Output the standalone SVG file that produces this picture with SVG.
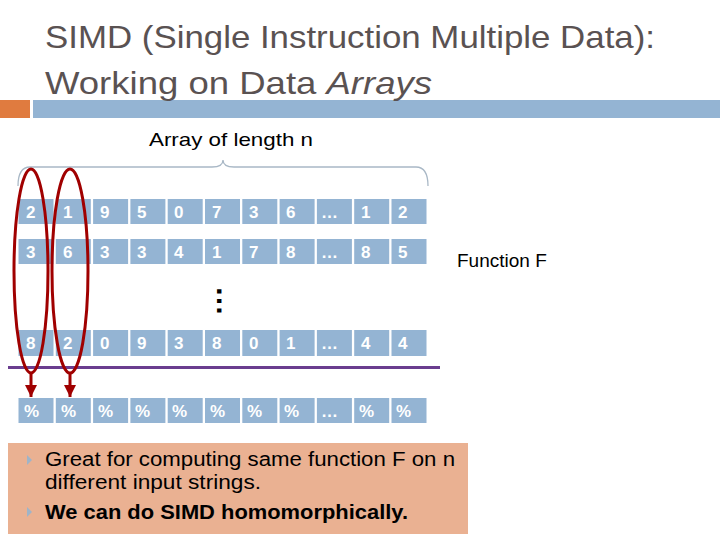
<svg xmlns="http://www.w3.org/2000/svg" width="720" height="540" viewBox="0 0 720 540">
<style>
.title{font-family:"Liberation Sans",Arial,sans-serif;font-size:32px;fill:#5a5252}
.lbl{font-family:"Liberation Sans",Arial,sans-serif;font-size:19px;fill:#000}
.cell rect{fill:#94b4d3}
.cell text{font-family:"Liberation Sans",Arial,sans-serif;font-size:17px;font-weight:bold;fill:#ffffff}
.bul{font-family:"Liberation Sans",Arial,sans-serif;font-size:20px;fill:#000}
.loop{fill:none;stroke:#a00000;stroke-width:3}
</style>
<defs>
<marker id="ah" viewBox="0 0 10 10" refX="10" refY="5" markerWidth="4.5" markerHeight="4" orient="auto" markerUnits="strokeWidth">
<path d="M0,0 L10,5 L0,10 z" fill="#a00000"/>
</marker>
</defs>
<rect x="0" y="100" width="30" height="18" fill="#e07b3f"/>
<rect x="33" y="100" width="687" height="18" fill="#94b4d3"/>
<text class="title" x="45" y="48" textLength="610" lengthAdjust="spacingAndGlyphs">SIMD (Single Instruction Multiple Data):</text>
<text class="title" x="45" y="94" textLength="387" lengthAdjust="spacingAndGlyphs">Working on Data <tspan font-style="italic">Arrays</tspan></text>
<text class="lbl" x="149" y="146" textLength="164" lengthAdjust="spacingAndGlyphs">Array of length n</text>
<path d="M18,186 Q18,167 30,167 L212,167 Q223,167 223,160 Q223,167 234,167 L416,167 Q428,167 428,186" fill="none" stroke="#a9b8c6" stroke-width="1.3"/>
<g id="row1" class="cell">
<rect x="18.5" y="199" width="35" height="25"/><text x="26" y="218">2</text>
<rect x="55.8" y="199" width="35" height="25"/><text x="63" y="218">1</text>
<rect x="93.1" y="199" width="35" height="25"/><text x="100" y="218">9</text>
<rect x="130.4" y="199" width="35" height="25"/><text x="137" y="218">5</text>
<rect x="167.7" y="199" width="35" height="25"/><text x="174" y="218">0</text>
<rect x="205" y="199" width="35" height="25"/><text x="212" y="218">7</text>
<rect x="242.3" y="199" width="35" height="25"/><text x="249" y="218">3</text>
<rect x="279.6" y="199" width="35" height="25"/><text x="286" y="218">6</text>
<rect x="316.9" y="199" width="35" height="25"/><text x="321" y="218">…</text>
<rect x="354.2" y="199" width="35" height="25"/><text x="361" y="218">1</text>
<rect x="391.5" y="199" width="35" height="25"/><text x="398" y="218">2</text>
</g>
<g id="row2" class="cell">
<rect x="18.5" y="239" width="35" height="25"/><text x="26" y="258">3</text>
<rect x="55.8" y="239" width="35" height="25"/><text x="63" y="258">6</text>
<rect x="93.1" y="239" width="35" height="25"/><text x="100" y="258">3</text>
<rect x="130.4" y="239" width="35" height="25"/><text x="137" y="258">3</text>
<rect x="167.7" y="239" width="35" height="25"/><text x="174" y="258">4</text>
<rect x="205" y="239" width="35" height="25"/><text x="212" y="258">1</text>
<rect x="242.3" y="239" width="35" height="25"/><text x="249" y="258">7</text>
<rect x="279.6" y="239" width="35" height="25"/><text x="286" y="258">8</text>
<rect x="316.9" y="239" width="35" height="25"/><text x="321" y="258">…</text>
<rect x="354.2" y="239" width="35" height="25"/><text x="361" y="258">8</text>
<rect x="391.5" y="239" width="35" height="25"/><text x="398" y="258">5</text>
</g>
<text x="219" y="301" transform="rotate(90 219 301)" text-anchor="middle" dy="2.5" font-family="Liberation Sans, Arial, sans-serif" font-size="30" font-weight="bold" fill="#000">…</text>
<g id="row3" class="cell">
<rect x="18.5" y="330" width="35" height="26"/><text x="26" y="349">8</text>
<rect x="55.8" y="330" width="35" height="26"/><text x="63" y="349">2</text>
<rect x="93.1" y="330" width="35" height="26"/><text x="100" y="349">0</text>
<rect x="130.4" y="330" width="35" height="26"/><text x="137" y="349">9</text>
<rect x="167.7" y="330" width="35" height="26"/><text x="174" y="349">3</text>
<rect x="205" y="330" width="35" height="26"/><text x="212" y="349">8</text>
<rect x="242.3" y="330" width="35" height="26"/><text x="249" y="349">0</text>
<rect x="279.6" y="330" width="35" height="26"/><text x="286" y="349">1</text>
<rect x="316.9" y="330" width="35" height="26"/><text x="321" y="349">…</text>
<rect x="354.2" y="330" width="35" height="26"/><text x="361" y="349">4</text>
<rect x="391.5" y="330" width="35" height="26"/><text x="398" y="349">4</text>
</g>
<line x1="8" y1="367.5" x2="440" y2="367.5" stroke="#6a3d8f" stroke-width="3"/>
<g id="row4" class="cell">
<rect x="18.5" y="398" width="35" height="25"/><text x="24" y="417">%</text>
<rect x="55.8" y="398" width="35" height="25"/><text x="61" y="417">%</text>
<rect x="93.1" y="398" width="35" height="25"/><text x="98" y="417">%</text>
<rect x="130.4" y="398" width="35" height="25"/><text x="135" y="417">%</text>
<rect x="167.7" y="398" width="35" height="25"/><text x="172" y="417">%</text>
<rect x="205" y="398" width="35" height="25"/><text x="210" y="417">%</text>
<rect x="242.3" y="398" width="35" height="25"/><text x="247" y="417">%</text>
<rect x="279.6" y="398" width="35" height="25"/><text x="284" y="417">%</text>
<rect x="316.9" y="398" width="35" height="25"/><text x="321" y="417">…</text>
<rect x="354.2" y="398" width="35" height="25"/><text x="359" y="417">%</text>
<rect x="391.5" y="398" width="35" height="25"/><text x="396" y="417">%</text>
</g>
<text class="lbl" x="457" y="267">Function F</text>
<g id="connectors">
<ellipse class="loop" cx="31" cy="271" rx="17" ry="102"/>
<ellipse class="loop" cx="70" cy="271" rx="18" ry="102"/>
<line class="loop" x1="31" y1="373" x2="31" y2="397" marker-end="url(#ah)"/>
<line class="loop" x1="70" y1="373" x2="70" y2="397" marker-end="url(#ah)"/>
</g>
<g id="notes">
<rect x="8" y="443" width="460" height="91" fill="#eab192"/>
<path d="M27,455 L32,460 L27,465 z" fill="#9fb4c8"/>
<path d="M27,507 L32,512 L27,517 z" fill="#9fb4c8"/>
<text class="bul" x="45" y="466" textLength="410" lengthAdjust="spacingAndGlyphs">Great for computing same function F on n</text>
<text class="bul" x="45" y="489" textLength="216" lengthAdjust="spacingAndGlyphs">different input strings.</text>
<text class="bul" x="45" y="519" font-weight="bold" textLength="363" lengthAdjust="spacingAndGlyphs">We can do SIMD homomorphically.</text>
</g>
</svg>
